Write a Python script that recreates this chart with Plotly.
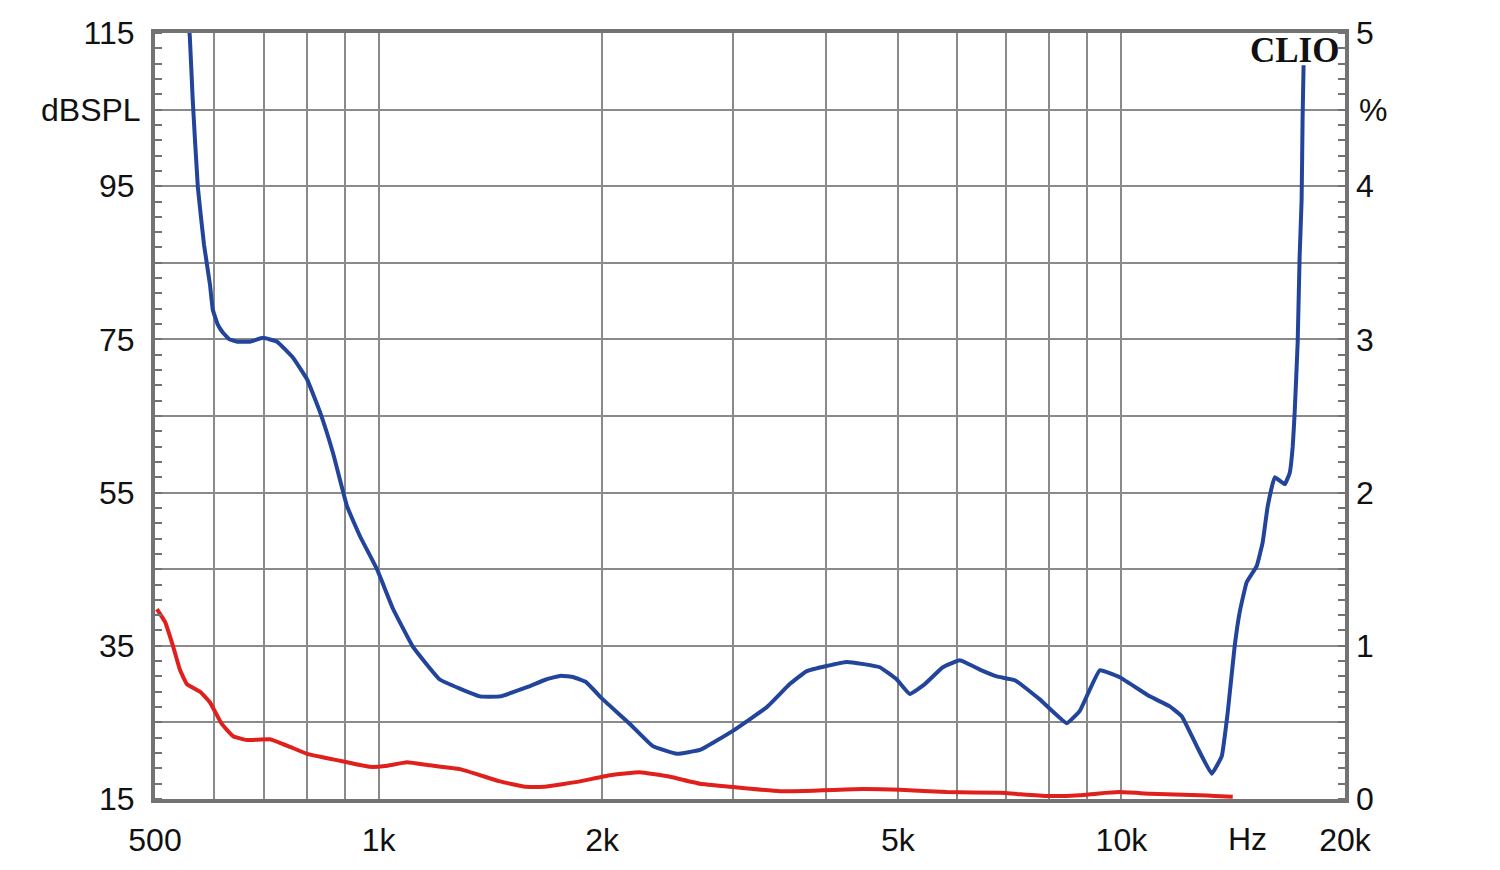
import plotly.graph_objects as go

# ---- data ----
blue_freq = [553, 557, 562, 571, 582, 593, 598, 607, 617, 630, 645, 671, 699, 730, 767, 801, 834, 868,
             907, 944, 995, 1046, 1112, 1209, 1369, 1456, 1584, 1680, 1760, 1830, 1900, 2004, 2179, 2340,
             2521, 2708, 2999, 3333, 3577, 3771, 4269, 4729, 4985, 5190, 5437, 5749, 6059,
             6447, 6795, 7186, 7766, 8443, 8790, 9351, 9948, 10919, 11617, 12058, 12631,
             13230, 13650, 13904, 14205, 14430, 14745, 15210, 15495, 15738, 16085, 16595,
             16852, 17007, 17112, 17270, 17376, 17483, 17537, 17590]
blue_db = [118.0, 114.5, 106.3, 94.9, 87.4, 82.1, 78.9, 77.0, 75.9, 75.0, 74.7, 74.7, 75.2, 74.7, 72.6,
           69.8, 65.5, 60.2, 53.2, 49.3, 45.0, 39.8, 34.9, 30.6, 28.4, 28.4, 29.6, 30.6, 31.1, 30.9, 30.3,
           28.0, 24.8, 21.9, 20.9, 21.4, 23.9, 27.0, 30.0, 31.7, 32.9, 32.2, 30.6, 28.7, 30.0,
           32.2, 33.1, 31.9, 31.0, 30.5, 28.0, 24.9, 26.5, 31.8, 30.9, 28.4, 27.1, 25.8, 21.9,
           18.3, 20.6, 26.3, 34.9, 39.4, 43.3, 45.4, 48.5, 53.2, 57.0, 56.1, 57.6, 61.0, 65.5,
           74.6, 85.8, 93.2, 104.0, 110.8]

red_freq = [503, 516, 529, 540, 552, 575, 593, 615, 637, 665, 714, 760, 801, 907, 973, 1020,
            1092, 1173, 1287, 1456, 1574, 1674, 1866, 2049, 2247, 2467, 2708, 2970, 3469,
            4487, 5031, 5820, 6859, 7936, 8790, 9264, 9948, 10919, 12751, 13356, 14122]
red_db = [39.8, 38.1, 34.9, 31.9, 30.0, 29.0, 27.6, 24.8, 23.2, 22.7, 22.8, 21.8, 20.9, 19.8,
          19.2, 19.3, 19.8, 19.4, 18.9, 17.3, 16.6, 16.6, 17.3, 18.1, 18.5, 17.9, 17.0, 16.6,
          16.0, 16.3, 16.2, 15.9, 15.8, 15.4, 15.5, 15.7, 15.9, 15.7, 15.5, 15.4, 15.3]

x_grid_vals = [500, 600, 700, 800, 900, 1000, 2000, 3000, 4000, 5000, 6000, 7000, 8000,
               9000, 10000, 20000]
x_grid_text = ["500", "", "", "", "", "1k", "2k", "", "", "5k", "", "", "", "", "10k", "20k"]
y_vals = [15, 25, 35, 45, 55, 65, 75, 85, 95, 105, 115]
y_text = ["15", "", "35", "", "55", "", "75", "", "95", "", "115"]
y2_vals = [0, 1, 2, 3, 4, 5]
y2_text = ["0", "1", "2", "3", "4", "5"]

# ---- layout geometry ----
W, H = 1500, 870
L, R, T, B = 155, 1345, 33, 810          # plot box
FONT = "Liberation Sans, Arial, sans-serif"
FS = 32
GRID = "#8a8a8a"
AXIS = "#737373"

fig = go.Figure()
fig.add_trace(go.Scatter(x=blue_freq, y=blue_db, mode="lines",
                         line=dict(color="#22449a", width=4, shape="spline", smoothing=0.3),
                         showlegend=False, hoverinfo="skip"))
fig.add_trace(go.Scatter(x=red_freq, y=red_db, mode="lines",
                         line=dict(color="#e0201c", width=4, shape="spline", smoothing=0.3),
                         showlegend=False, hoverinfo="skip"))
# invisible trace to activate right axis
fig.add_trace(go.Scatter(x=[1000], y=[0], yaxis="y2", mode="markers",
                         marker=dict(opacity=0), showlegend=False, hoverinfo="skip"))

def px(xp):
    return (xp - L) / (R - L)

def py(yp):
    # target reference pixel -> paper coordinate of the reference plot box (33..800)
    return (800 - yp) / (800 - 33)

fig.update_layout(
    width=W, height=H,
    margin=dict(l=L, r=W - R, t=T, b=H - B),
    paper_bgcolor="white", plot_bgcolor="white",
    font=dict(family=FONT, size=FS, color="#111111"),
    xaxis=dict(type="log", range=[2.69897, 4.30103],
               tickmode="array", tickvals=x_grid_vals, ticktext=x_grid_text,
               showgrid=True, gridcolor=GRID, gridwidth=1.6,
               showline=True, linecolor=AXIS, linewidth=4, mirror=True,
               ticks="", ticklabelstandoff=10, zeroline=False),
    yaxis=dict(range=[15, 115], tickmode="array", tickvals=y_vals, ticktext=y_text,
               showgrid=True, gridcolor=GRID, gridwidth=1.6,
               showline=True, linecolor=AXIS, linewidth=4, mirror=True,
               ticks="", ticklabelstandoff=10, zeroline=False,
               minor=dict(tickmode="linear", tick0=15, dtick=2, ticks="inside",
                          ticklen=7, tickcolor=AXIS, tickwidth=1.5, showgrid=False)),
    yaxis2=dict(range=[0, 5], overlaying="y", side="right",
                tickmode="array", tickvals=y2_vals, ticktext=y2_text,
                showgrid=False, showline=False, ticks="", ticklabelstandoff=10,
                zeroline=False,
                minor=dict(tickmode="linear", tick0=0, dtick=0.1, ticks="inside",
                           ticklen=7, tickcolor=AXIS, tickwidth=1.5)),
    annotations=[
        dict(text="dBSPL", xref="paper", yref="paper", x=px(143), y=py(110),
             xanchor="right", yanchor="middle", showarrow=False,
             font=dict(family=FONT, size=FS, color="#111111")),
        dict(text="%", xref="paper", yref="paper", x=px(1357), y=py(110),
             xanchor="left", yanchor="middle", showarrow=False,
             font=dict(family=FONT, size=FS, color="#111111")),
        dict(text="Hz", xref="paper", yref="paper", x=px(1247), y=py(840),
             xanchor="center", yanchor="middle", showarrow=False,
             font=dict(family=FONT, size=FS, color="#111111")),
        dict(text="<b>CLIO</b>", xref="paper", yref="paper", x=px(1341), y=py(51),
             xanchor="right", yanchor="middle", showarrow=False,
             font=dict(family="Liberation Serif, Times New Roman, serif", size=35,
                       color="#111111")),
    ],
)

fig.write_html(
    "out.html",
    config={"displayModeBar": False},
    post_script="document.body.style.margin='0';document.body.style.overflow='hidden';",
)
